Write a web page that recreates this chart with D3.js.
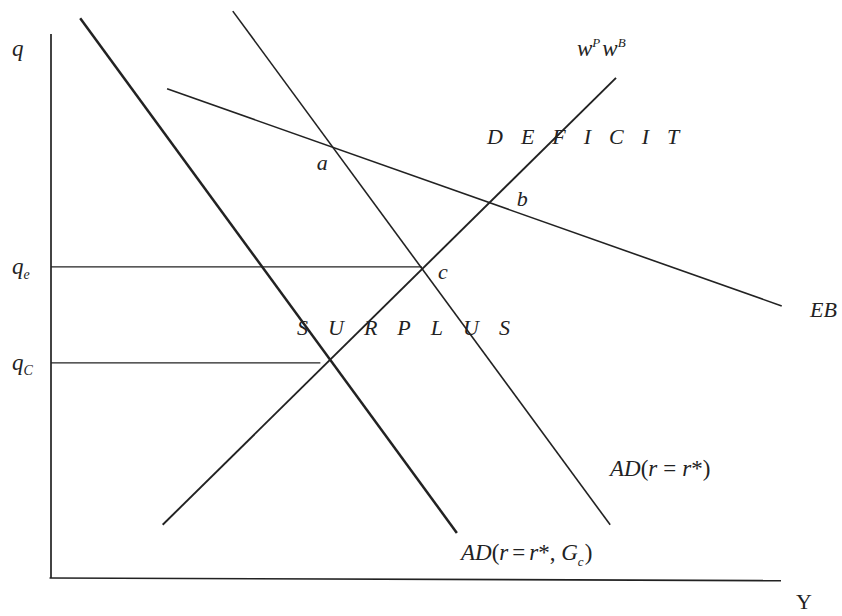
<!DOCTYPE html>
<html>
<head>
<meta charset="utf-8">
<script src="https://cdn.jsdelivr.net/npm/d3@7"></script>
<style>
  body { margin: 0; background: #fff; }
  svg text { font-family: "Liberation Serif", "DejaVu Serif", serif; fill: #222; }
</style>
</head>
<body>
<div id="chart"></div>
<script>
  // Curves as [x, y] endpoints in chart units (Y on x, q on y)
  const adGovLine = [[0.40, 10.31], [5.56, 0.83]];   // AD(r = r*, Gc)
  const adLine    = [[2.49, 10.44], [7.66, 0.98]];   // AD(r = r*)
  const ebLine    = [[1.59, 9.01], [10.01, 5.01]];   // EB
  const wageLine  = [[1.53, 0.98], [7.74, 9.21]];    // wP wB

  // price levels marked on the q axis
  const qLevels = [
    { name: "e", value: 5.73, until: 5.08 },
    { name: "C", value: 3.96, until: 3.69 }
  ];

  // point labels a, b, c
  const points = [
    { label: "a", x: 3.64, y: 7.51 },
    { label: "b", x: 6.38, y: 6.85 },
    { label: "c", x: 5.30, y: 5.51 }
  ];

  const width = 842, height = 616;
  const svg = d3.select("#chart").append("svg")
    .attr("width", width)
    .attr("height", height);

  const x = d3.scaleLinear().domain([0, 10]).range([51, 781]);
  const y = d3.scaleLinear().domain([0, 10]).range([578, 35]);

  const ink = "#222";
  const fs = 21;

  // axes (plain lines, no ticks)
  svg.append("line")
    .attr("x1", x(0)).attr("y1", y(0))
    .attr("x2", x(0)).attr("y2", y(10.02))
    .attr("stroke", ink).attr("stroke-width", 1.7);
  svg.append("line")
    .attr("x1", x(-0.02)).attr("y1", y(0))
    .attr("x2", x(10)).attr("y2", y(-0.05))
    .attr("stroke", ink).attr("stroke-width", 1.7);

  const line = d3.line().x(d => x(d[0])).y(d => y(d[1]));

  const curves = [
    { pts: adGovLine, w: 2.5 },
    { pts: adLine, w: 1.6 },
    { pts: ebLine, w: 1.6 },
    { pts: wageLine, w: 1.9 }
  ];

  svg.selectAll("path.curve")
    .data(curves)
    .enter()
    .append("path")
    .attr("class", "curve")
    .attr("d", d => line(d.pts))
    .attr("fill", "none")
    .attr("stroke", ink)
    .attr("stroke-width", d => d.w);

  // horizontal guides to q_e and q_C
  svg.selectAll("line.guide")
    .data(qLevels)
    .enter()
    .append("line")
    .attr("class", "guide")
    .attr("x1", x(0)).attr("x2", d => x(d.until))
    .attr("y1", d => y(d.value)).attr("y2", d => y(d.value))
    .attr("stroke", ink).attr("stroke-width", 1.3);

  // q axis labels
  const qLab = svg.selectAll("text.qlab")
    .data(qLevels)
    .enter()
    .append("text")
    .attr("class", "qlab")
    .attr("x", 12)
    .attr("y", d => y(d.value) + 7)
    .attr("font-size", fs + 2)
    .attr("font-style", "italic")
    .text("q");
  qLab.append("tspan")
    .attr("dy", 5)
    .attr("font-size", 14)
    .text(d => d.name);

  svg.append("text")
    .attr("x", 12).attr("y", 56)
    .attr("font-size", fs + 2).attr("font-style", "italic")
    .text("q");

  svg.append("text")
    .attr("x", 796).attr("y", 609)
    .attr("font-size", fs + 1)
    .text("Y");

  svg.append("text")
    .attr("x", 810).attr("y", 317)
    .attr("font-size", fs + 1).attr("font-style", "italic")
    .text("EB");

  // w^P w^B
  const w = svg.append("text")
    .attr("x", 577).attr("y", 56)
    .attr("font-size", fs + 2).attr("font-style", "italic");
  w.append("tspan").text("w");
  w.append("tspan").attr("dy", -9).attr("font-size", 13).text("P");
  w.append("tspan").attr("dy", 9).attr("dx", 2).text("w");
  w.append("tspan").attr("dy", -9).attr("font-size", 13).text("B");

  // AD(r = r*)
  const ad1 = svg.append("text")
    .attr("x", 610).attr("y", 476)
    .attr("font-size", fs + 2);
  ad1.append("tspan").attr("font-style", "italic").text("AD");
  ad1.append("tspan").text("(");
  ad1.append("tspan").attr("font-style", "italic").text("r");
  ad1.append("tspan").attr("dx", 6).text("=");
  ad1.append("tspan").attr("dx", 6).attr("font-style", "italic").text("r");
  ad1.append("tspan").text("*)");

  // AD(r = r*, Gc)
  const ad2 = svg.append("text")
    .attr("x", 461).attr("y", 560)
    .attr("font-size", fs + 2);
  ad2.append("tspan").attr("font-style", "italic").text("AD");
  ad2.append("tspan").text("(");
  ad2.append("tspan").attr("font-style", "italic").text("r");
  ad2.append("tspan").attr("dx", 4).text("=");
  ad2.append("tspan").attr("dx", 4).attr("font-style", "italic").text("r");
  ad2.append("tspan").text("*, ");
  ad2.append("tspan").attr("font-style", "italic").text("G");
  ad2.append("tspan").attr("dy", 6).attr("font-size", 13).attr("font-style", "italic").text("c");
  ad2.append("tspan").attr("dy", -6).attr("dx", 1).text(")");

  svg.selectAll("text.pt")
    .data(points)
    .enter()
    .append("text")
    .attr("class", "pt")
    .attr("x", d => x(d.x))
    .attr("y", d => y(d.y))
    .attr("font-size", fs + 1)
    .attr("font-style", "italic")
    .text(d => d.label);

  // region words, letter spaced
  svg.append("text")
    .attr("x", 487).attr("y", 144)
    .attr("font-size", fs + 1).attr("font-style", "italic")
    .attr("letter-spacing", 18)
    .text("DEFICIT");

  svg.append("text")
    .attr("x", 297).attr("y", 335)
    .attr("font-size", fs + 1).attr("font-style", "italic")
    .attr("letter-spacing", 20)
    .text("SURPLUS");
</script>
</body>
</html>
